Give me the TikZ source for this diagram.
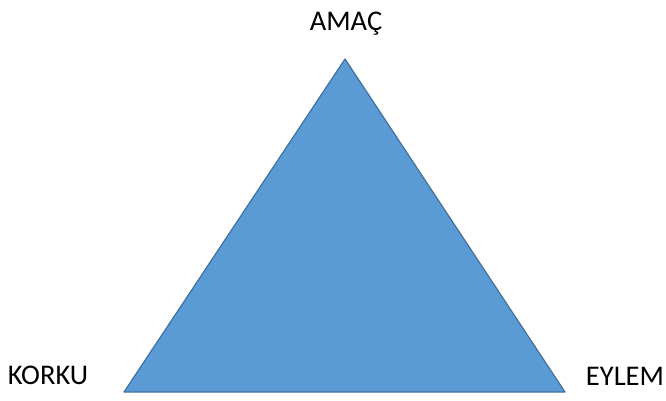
\documentclass[tikz,border=0pt]{standalone}
\usepackage{fontspec}
\setmainfont{Carlito}
\definecolor{trifill}{HTML}{5B9BD5}
\definecolor{triline}{HTML}{41719C}
\begin{document}
\begin{tikzpicture}[x=1pt,y=-1pt,
  lbl/.style={anchor=base,inner sep=0pt,font=\fontsize{28.5}{31}\selectfont}]
\useasboundingbox (0,0) rectangle (666,401);
\coordinate (top) at (345,59);
\coordinate (bl) at (124,392);
\coordinate (br) at (565,392);
\draw[fill=trifill,draw=triline,line width=1.2pt,line join=round] (top) -- (bl) -- (br) -- cycle;
\node[lbl] (amac) at (346,31) {AMAÇ};
\node[lbl] (korku) at (48,384) {KORKU};
\node[lbl] (eylem) at (625,385) {EYLEM};
\end{tikzpicture}
\end{document}
